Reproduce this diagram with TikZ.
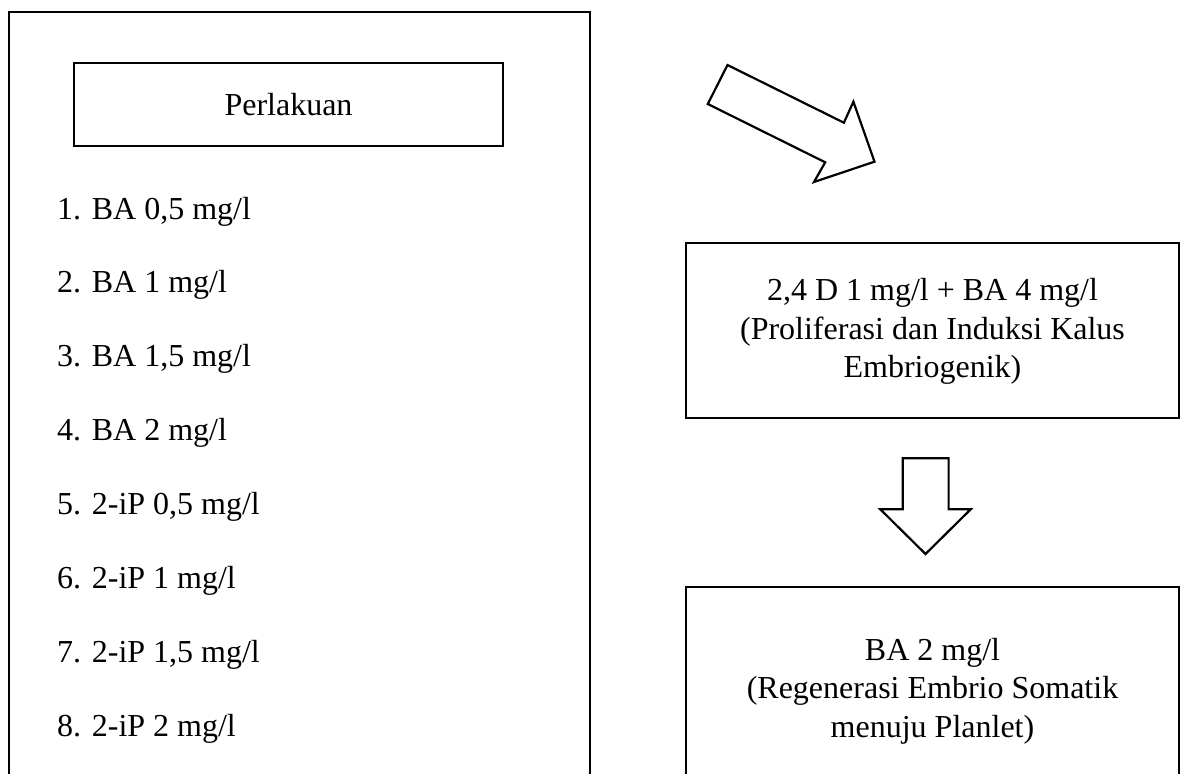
\documentclass[tikz,border=0pt]{standalone}
\usepackage{fontspec}
\setmainfont{Liberation Serif}
\begin{document}
\begin{tikzpicture}[x=1pt,y=-1pt,
  box/.style={draw=black, line width=2.2pt, inner sep=0pt, outer sep=0pt, anchor=north west},
  lbl/.style={font=\fontsize{32}{38.5}\selectfont, align=center, inner sep=0pt},
  item/.style={font=\fontsize{32}{38.5}\selectfont, anchor=base west, inner sep=0pt},
  blockarrow/.style={draw=black, line width=2.2pt, fill=white, line join=miter}]
\useasboundingbox (0,0) rectangle (1184,774);
\fill[white] (0,0) rectangle (1184,774);
\clip (0,0) rectangle (1184,774);
% left panel
\node[box, minimum width=581pt, minimum height=800pt] (left) at (9,12) {};
\node[box, minimum width=429pt, minimum height=83pt] (perlbox) at (74,63) {};
\node[lbl] (perl) at (perlbox.center) {Perlakuan};
\foreach \t [count=\i] in {1. BA 0{,}5 mg/l, 2. BA 1 mg/l, 3. BA 1{,}5 mg/l, 4. BA 2 mg/l,
  5. 2-iP 0{,}5 mg/l, 6. 2-iP 1 mg/l, 7. 2-iP 1{,}5 mg/l, 8. 2-iP 2 mg/l}
  \node[item] (i\i) at (57,{219+73.9*(\i-1)}) {\t};
% right boxes
\node[box, minimum width=493pt, minimum height=175pt] (box1) at (686,243) {};
\node[lbl] (t1) at ([yshift=-1pt]box1.center) {2,4 D 1 mg/l + BA 4 mg/l\\(Proliferasi dan Induksi Kalus\\Embriogenik)};
\node[box, minimum width=493pt, minimum height=250pt] (box2) at (686,587) {};
\coordinate (c2) at (932.5,691);
\node[lbl] (t2) at (c2) {BA 2 mg/l\\(Regenerasi Embrio Somatik\\menuju Planlet)};
% block arrows
\draw[blockarrow] (727.5,65) -- (843.9,122.7) -- (853.4,101.7) -- (874.5,161.7)
  -- (814,182) -- (825.2,162.3) -- (707.8,104) -- cycle;
\draw[blockarrow] (902.7,458.3) -- (948.6,458.3) -- (948.6,509.3) -- (970.7,509.3)
  -- (925.5,554) -- (880.3,509.3) -- (902.7,509.3) -- cycle;
\end{tikzpicture}
\end{document}
